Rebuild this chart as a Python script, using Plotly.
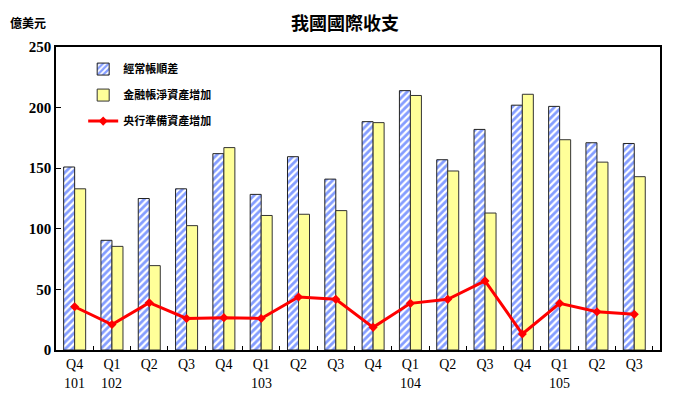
import plotly.graph_objects as go

categories = ["Q4 101", "Q1 102", "Q2 102", "Q3 102", "Q4 102", "Q1 103", "Q2 103", "Q3 103",
              "Q4 103", "Q1 104", "Q2 104", "Q3 104", "Q4 104", "Q1 105", "Q2 105", "Q3 105"]
quarter_labels = ["Q4", "Q1", "Q2", "Q3", "Q4", "Q1", "Q2", "Q3",
                  "Q4", "Q1", "Q2", "Q3", "Q4", "Q1", "Q2", "Q3"]
year_labels = {"Q4 101": "101", "Q1 102": "102", "Q1 103": "103", "Q1 104": "104", "Q1 105": "105"}
current_account = [151, 90.5, 125, 133, 162, 128.4, 159.5, 141, 188.4, 214, 157, 182, 202, 201, 171, 170.4]
financial_account = [133, 85.5, 69.6, 102.6, 167, 111, 112, 115, 187.6, 210, 147.7, 113, 211, 173.5, 155, 143]
reserve_assets = [35.7, 21, 39, 26, 26.7, 26, 43.7, 41.8, 18.7, 38.5, 41.8, 57, 13.2, 38.5, 31.6, 29.4]
y_ticks = [0, 50, 100, 150, 200, 250]

serif = "Liberation Serif, Times New Roman, serif"
cjk = "Noto Sans CJK TC, Noto Sans CJK SC, sans-serif"

fig = go.Figure()
fig.add_trace(go.Bar(
    x=categories, y=current_account, name="經常帳順差", legendgroup="a",
    marker=dict(color="white", line=dict(color="#222222", width=1),
                pattern=dict(shape="/", fgcolor="#0A3CFF", bgcolor="white", size=5, solidity=0.55)),
))
fig.add_trace(go.Bar(
    x=categories, y=financial_account, name="金融帳淨資產增加", legendgroup="b",
    marker=dict(color="#FFFF99", line=dict(color="#333333", width=1)),
))
fig.add_trace(go.Scatter(
    x=categories, y=reserve_assets, name="央行準備資產增加", legendgroup="c",
    mode="lines+markers", line=dict(color="#FF0000", width=3),
    marker=dict(symbol="diamond", size=7, color="#FF0000"),
))

annotations = [
    dict(text="我國國際收支", xref="paper", yref="paper", x=(345 - 56) / 604, y=1 + (47 - 22) / 303,
         xanchor="center", yanchor="middle", showarrow=False,
         font=dict(family=cjk, size=18, color="black", weight="bold")),
    dict(text="億美元", xref="paper", yref="paper", x=-(56 - 8) / 604, y=1 + (47 - 22) / 303,
         xanchor="left", yanchor="middle", showarrow=False,
         font=dict(family=cjk, size=12, color="black", weight="bold")),
]
for cat, yr in year_labels.items():
    annotations.append(dict(text=yr, x=cat, xref="x", yref="paper", y=-(383 - 350) / 303,
                            xanchor="center", yanchor="middle", showarrow=False,
                            font=dict(family=serif, size=14, color="black")))

# page body has a default 8px margin, so margins are reduced to compensate
fig.update_layout(
    width=676, height=398,
    margin=dict(l=48, r=24, t=39, b=56),
    paper_bgcolor="white", plot_bgcolor="white",
    barmode="group", bargap=0.41, bargroupgap=0,
    showlegend=True,
    legend=dict(x=0.045, y=0.975, xanchor="left", yanchor="top",
                font=dict(family=cjk, size=11, color="black", weight="bold"),
                bgcolor="rgba(0,0,0,0)", traceorder="grouped", tracegroupgap=7),
    annotations=annotations,
)

fig.update_xaxes(
    type="category", range=[-0.5, 15.69], autorange=False,
    showline=True, linecolor="black", linewidth=1.5, mirror=True,
    ticks="inside", tickson="boundaries", ticklen=4, tickcolor="black",
    showgrid=False, automargin=False,
    tickvals=categories, ticktext=quarter_labels,
    tickfont=dict(family=serif, size=14, color="black"),
)
fig.update_yaxes(
    range=[0, 250], tickvals=y_ticks, showline=True, linecolor="black", linewidth=1.5, mirror=True,
    ticks="inside", ticklen=5, tickcolor="black", showgrid=False, zeroline=False, automargin=False,
    tickfont=dict(family=serif, size=15, color="black", weight="bold"),
)

fig.write_html("out.html")
